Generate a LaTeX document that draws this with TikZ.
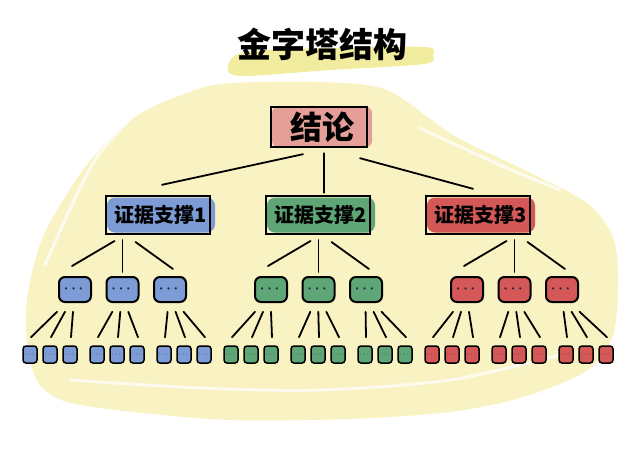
\documentclass[tikz,border=0pt]{standalone}
\usepackage{amsmath}
\usepackage{fontspec}
\newfontfamily\cjk{Noto Sans CJK SC}
\usetikzlibrary{calc}

\definecolor{paper}{HTML}{F9F2C2}
\definecolor{marker}{HTML}{F1EC9E}
\definecolor{rootpink}{HTML}{E69E99}
\definecolor{blueA}{HTML}{7D9BD4}
\definecolor{greenA}{HTML}{5FA677}
\definecolor{redA}{HTML}{D45858}
\definecolor{dotc}{HTML}{1B2440}

\tikzset{
  link/.style={line width=1.8pt, line cap=round},
  frame/.style={line width=2pt},
  rootfill/.style={fill=rootpink, rounded corners=6, minimum width=100, minimum height=40,
    inner sep=0pt, font=\cjk\bfseries\fontsize{32}{32}\selectfont},
  proofbox/.style={rounded corners=8, minimum width=108, minimum height=35,
    inner sep=0pt, font=\cjk\bfseries\fontsize{20}{20}\selectfont},
  midbox/.style={draw, line width=2pt, rounded corners=6, minimum width=32,
    minimum height=25, inner sep=0pt, text=dotc, font=\bfseries\fontsize{14}{14}\selectfont},
  leafbox/.style={draw, line width=1.5pt, rounded corners=3, minimum width=14,
    minimum height=17, inner sep=0pt, text=dotc, font=\bfseries\fontsize{8}{8}\selectfont},
  stroke/.style={white, line width=3pt, opacity=.75, line cap=round}
}

\begin{document}
\begin{tikzpicture}[x=1pt,y=-1pt]
  \useasboundingbox (0,0) rectangle (640,452);

  % yellow backdrop
  \fill[paper] plot[smooth cycle] coordinates {(233,83) (320,82) (387,90) (453,135)
    (520,168) (587,203) (614,240) (618,290) (612,338) (585,372) (520,398) (450,412)
    (350,419) (230,420) (133,412) (67,402) (40,385) (28,352) (27,300) (43,237)
    (83,170) (133,118) (195,90)};
  \draw[stroke] plot[smooth] coordinates {(150,100) (95,160) (45,265)};
  \draw[stroke] plot[smooth] coordinates {(420,128) (500,165) (560,190)};
  \draw[stroke] plot[smooth] coordinates {(70,380) (200,388) (320,390) (450,380) (560,355)};

  % title
  \fill[marker] plot[smooth cycle] coordinates {(228,66) (245,52) (330,48) (425,47)
    (433,55) (424,64) (330,70) (240,76)};
  \node[font=\cjk\bfseries\fontsize{34}{34}\selectfont] (title) at (322,44) {金字塔结构};

  % conclusion
  \node[rootfill] (top) at (322,127) {结论};
  \draw[frame] ($(top.north west)+(-1,0)$) rectangle ($(top.south east)+(-5,0)$);

  % supporting arguments
  \foreach \i/\x/\c in {1/158/blueA,2/318/greenA,3/478/redA}{
    \node[proofbox, fill=\c] (e\i) at (\x+3,215) {证据支撑\i};
    \draw[frame] ($(e\i.north west)+(-1,-1)$) rectangle ($(e\i.south east)+(-5,1)$);
  }

  \draw[link] ($(top.south)+(-19,7)$) -- ($(e1.north)+(1,-12.5)$);
  \draw[link] ($(top.south)+(2,6)$) -- ($(e2.north)+(3,-4.5)$);
  \draw[link] ($(top.south)+(38,11)$) -- ($(e3.north)+(-8,-8.5)$);

  % second and third level
  \foreach \i/\c in {1/blueA,2/greenA,3/redA}{
    \foreach \j in {1,2,3}{
      \node[midbox, fill=\c] (m-\i-\j) at ({75+196*(\i-1)+47.5*(\j-1)},289.5) {$\boldsymbol{\cdots}$};
      \foreach \k in {1,2,3}{
        \node[leafbox, fill=\c] (s-\i-\j-\k) at ({30+67*(3*(\i-1)+\j-1)+20*(\k-1)},354.5)
          {$\cdots$};
        \draw[link] ($(m-\i-\j.center)!0.4!(s-\i-\j-\k.north)$) -- ($(s-\i-\j-\k.north)+(1,-8)$);
      }
    }
    \draw[link] ($(m-\i-2.north)+(-8,-35)$) -- ($(m-\i-1.north)+(-3,-10)$);
    \draw[link] ($(m-\i-2.north)+(0,-36)$) -- ($(m-\i-2.north)+(0,-4)$);
    \draw[link] ($(m-\i-2.north)+(13,-34)$) -- ($(m-\i-3.north)+(3,-7)$);
  }
\end{tikzpicture}
\end{document}
